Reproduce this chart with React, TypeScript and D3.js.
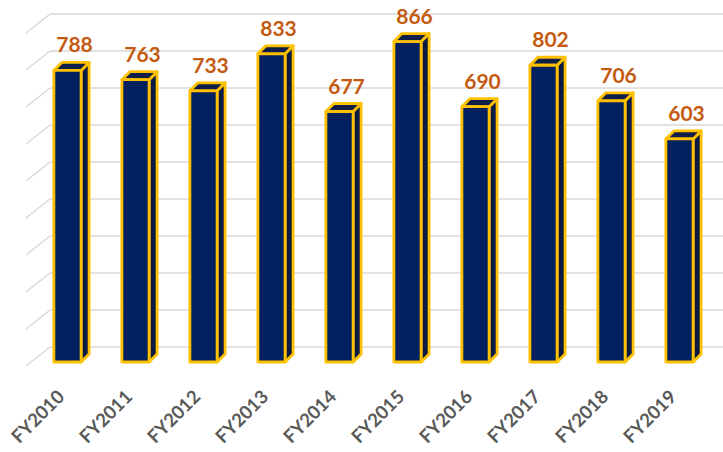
import React from "react";
import * as d3 from "d3";

const categories = ["FY2010", "FY2011", "FY2012", "FY2013", "FY2014", "FY2015", "FY2016", "FY2017", "FY2018", "FY2019"];
const values = [788, 763, 733, 833, 677, 866, 690, 802, 706, 603];
const gridTicks = [0, 100, 200, 300, 400, 500, 600, 700, 800, 900];

const W = 723;
const H = 452;
const DEPTH = 8;

export default function App() {
  const x = d3
    .scaleBand<string>()
    .domain(categories)
    .range([33.5, 713.5])
    .paddingInner(0.6)
    .paddingOuter(0.3);

  // front plane of the bars
  const yFront = d3.scaleLinear().domain([0, 900]).range([362, 29]);
  // back wall of the plot
  const yBack = d3.scaleLinear().domain([0, 900]).range([347, 14]);

  const wallLeft = 50;
  const bw = x.bandwidth();

  return (
    <svg
      width={W}
      height={H}
      viewBox={`0 0 ${W} ${H}`}
      style={{ position: "absolute", left: 0, top: 0, background: "#fff" }}
    >
      <g className="grid">
        {gridTicks.map((t) => {
          const yy = yBack(t);
          return (
            <g key={t}>
              <line x1={wallLeft} x2={W} y1={yy} y2={yy} stroke="#D9D9D9" strokeWidth={1.5} />
              <line x1={wallLeft} x2={26} y1={yy} y2={yy + 19} stroke="#D9D9D9" strokeWidth={1.5} />
            </g>
          );
        })}
      </g>
      <g className="bars">
        {categories.map((c, i) => {
          const v = values[i];
          const x0 = x(c)!;
          const x1 = x0 + bw;
          const top = yFront(v);
          const bot = yFront(0);
          const d = DEPTH;
          return (
            <g key={c} stroke="#FFC000" strokeWidth={2.8} strokeLinejoin="round">
              <polygon
                points={`${x1},${top} ${x1 + d},${top - d} ${x1 + d},${bot - d} ${x1},${bot}`}
                fill="#0A1A42"
              />
              <polygon
                points={`${x0},${top} ${x0 + d},${top - d} ${x1 + d},${top - d} ${x1},${top}`}
                fill="#0E1E48"
              />
              <rect x={x0} y={top} width={bw} height={bot - top} fill="#002060" />
            </g>
          );
        })}
      </g>
      <g className="value-labels">
        {categories.map((c, i) => {
          const v = values[i];
          const cx = x(c)! + bw / 2 + 7;
          return (
            <text
              key={c}
              x={cx}
              y={yFront(v) - DEPTH - 10}
              textAnchor="middle"
              fontFamily="Lato, 'Open Sans', sans-serif"
              fontWeight={700}
              fontSize={21}
              fill="#C55A11"
            >
              {v}
            </text>
          );
        })}
      </g>
      <g className="x-labels">
        {categories.map((c) => {
          const cx = x(c)! + bw / 2 - 2;
          const cy = 398;
          return (
            <text
              key={c}
              x={cx}
              y={cy}
              transform={`rotate(-45 ${cx} ${cy})`}
              textAnchor="end"
              fontFamily="Lato, 'Open Sans', sans-serif"
              fontWeight={700}
              fontSize={18.5}
              fill="#595959"
            >
              {c}
            </text>
          );
        })}
      </g>
    </svg>
  );
}
